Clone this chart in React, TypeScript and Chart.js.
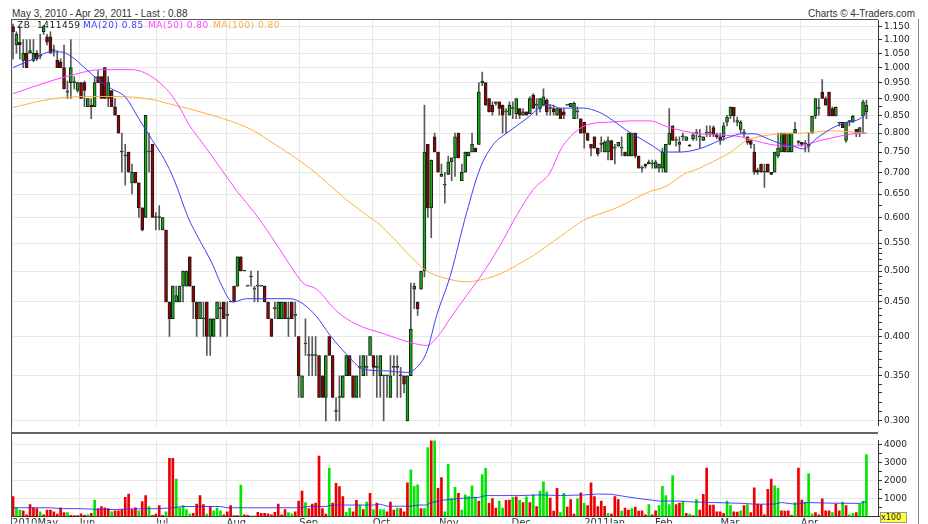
import { useEffect, useRef } from "react";
import { Chart, registerables } from "chart.js";

Chart.register(...registerables);

// Each candle: [open, high, low, close]
const candles: [number, number, number, number][] = [
  // May 2010
  [1.15, 1.16, 1.03, 1.13], [1.08, 1.13, 1.05, 1.12], [1.09, 1.15, 1.03, 1.08], [1.025, 1.10, 1.00, 1.05], [1.05, 1.10, 1.00, 1.00],
  [1.05, 1.10, 1.05, 1.06], [1.025, 1.10, 1.02, 1.05], [1.05, 1.06, 1.025, 1.03], [1.04, 1.12, 1.03, 1.04], [1.13, 1.155, 1.12, 1.15],
  [1.11, 1.12, 1.08, 1.09], [1.11, 1.13, 1.05, 1.05], [1.06, 1.08, 1.04, 1.06], [1.025, 1.06, 1.00, 1.00], [1.02, 1.03, 1.00, 1.00],
  [1.00, 1.08, 0.93, 0.93], [0.92, 0.955, 0.90, 0.92], [0.95, 1.10, 0.90, 1.00], [0.95, 0.97, 0.93, 0.95], [0.925, 0.95, 0.92, 0.95],
  // Jun
  [0.95, 0.95, 0.90, 0.90], [0.95, 0.955, 0.875, 0.925], [0.875, 0.90, 0.875, 0.90], [0.88, 0.90, 0.84, 0.875], [0.875, 0.97, 0.875, 0.95],
  [0.97, 0.99, 0.95, 0.95], [0.97, 0.97, 0.90, 0.90], [1.00, 1.00, 0.90, 0.90], [0.90, 0.97, 0.875, 0.95], [0.925, 0.925, 0.875, 0.875],
  [0.875, 0.90, 0.85, 0.85], [0.85, 0.85, 0.80, 0.80], [0.75, 0.80, 0.70, 0.75], [0.74, 0.77, 0.67, 0.74], [0.75, 0.75, 0.70, 0.70],
  [0.675, 0.72, 0.65, 0.70], [0.70, 0.70, 0.675, 0.675], [0.675, 0.675, 0.60, 0.62], [0.62, 0.62, 0.573, 0.575], [0.60, 0.85, 0.60, 0.85],
  [0.75, 0.80, 0.70, 0.75], [0.77, 0.77, 0.60, 0.60], [0.60, 0.61, 0.575, 0.60],
  // Jul
  [0.60, 0.625, 0.575, 0.60], [0.575, 0.60, 0.575, 0.60], [0.575, 0.575, 0.45, 0.45], [0.45, 0.45, 0.40, 0.425], [0.425, 0.475, 0.425, 0.475],
  [0.45, 0.475, 0.45, 0.46], [0.45, 0.475, 0.45, 0.475], [0.475, 0.50, 0.45, 0.50], [0.475, 0.50, 0.475, 0.50], [0.525, 0.525, 0.475, 0.475],
  [0.475, 0.475, 0.425, 0.45], [0.45, 0.45, 0.40, 0.425], [0.425, 0.45, 0.425, 0.45], [0.425, 0.45, 0.40, 0.425], [0.45, 0.45, 0.375, 0.40],
  [0.40, 0.425, 0.375, 0.425], [0.40, 0.425, 0.40, 0.425], [0.425, 0.45, 0.425, 0.45], [0.44, 0.45, 0.40, 0.44], [0.45, 0.45, 0.425, 0.425],
  // Aug
  [0.43, 0.45, 0.40, 0.43], [0.45, 0.45, 0.45, 0.45], [0.475, 0.475, 0.45, 0.45], [0.475, 0.525, 0.475, 0.525], [0.525, 0.525, 0.50, 0.50],
  [0.50, 0.50, 0.50, 0.50], [0.475, 0.475, 0.475, 0.475], [0.49, 0.50, 0.475, 0.49], [0.47, 0.475, 0.45, 0.47], [0.475, 0.50, 0.45, 0.475],
  [0.475, 0.475, 0.475, 0.475], [0.475, 0.475, 0.45, 0.45], [0.45, 0.45, 0.425, 0.425], [0.425, 0.425, 0.40, 0.40], [0.44, 0.45, 0.425, 0.44],
  [0.425, 0.45, 0.425, 0.45], [0.425, 0.45, 0.425, 0.45], [0.45, 0.45, 0.425, 0.425], [0.425, 0.45, 0.40, 0.425], [0.45, 0.45, 0.425, 0.425],
  [0.43, 0.45, 0.40, 0.43],
  // Sep
  [0.40, 0.40, 0.325, 0.35], [0.325, 0.35, 0.325, 0.35], [0.39, 0.425, 0.375, 0.39], [0.375, 0.40, 0.35, 0.375], [0.375, 0.40, 0.35, 0.375],
  [0.375, 0.40, 0.35, 0.375], [0.375, 0.375, 0.325, 0.325], [0.35, 0.35, 0.325, 0.325], [0.325, 0.375, 0.30, 0.375], [0.40, 0.40, 0.375, 0.375],
  [0.375, 0.375, 0.325, 0.325], [0.31, 0.325, 0.30, 0.31], [0.325, 0.35, 0.30, 0.325], [0.325, 0.35, 0.325, 0.35], [0.35, 0.375, 0.35, 0.375],
  [0.375, 0.375, 0.35, 0.35], [0.35, 0.35, 0.325, 0.325], [0.325, 0.35, 0.325, 0.35], [0.36, 0.375, 0.325, 0.36], [0.35, 0.375, 0.35, 0.375],
  [0.36, 0.375, 0.35, 0.36], [0.375, 0.40, 0.375, 0.40],
  // Oct
  [0.375, 0.375, 0.35, 0.36], [0.36, 0.375, 0.325, 0.36], [0.35, 0.375, 0.325, 0.375], [0.35, 0.35, 0.30, 0.35], [0.35, 0.35, 0.325, 0.35],
  [0.325, 0.375, 0.325, 0.35], [0.36, 0.375, 0.35, 0.36], [0.36, 0.375, 0.325, 0.36], [0.35, 0.36, 0.325, 0.35], [0.35, 0.35, 0.33, 0.34],
  [0.30, 0.35, 0.30, 0.35], [0.35, 0.48, 0.35, 0.41], [0.47, 0.48, 0.44, 0.475], [0.45, 0.45, 0.43, 0.44], [0.47, 0.50, 0.47, 0.50],
  [0.50, 0.88, 0.49, 0.75], [0.77, 0.77, 0.60, 0.62], [0.62, 0.73, 0.56, 0.73], [0.79, 0.80, 0.75, 0.75], [0.75, 0.75, 0.70, 0.70],
  // Nov
  [0.69, 0.72, 0.69, 0.695], [0.67, 0.70, 0.63, 0.67], [0.695, 0.74, 0.695, 0.725], [0.725, 0.735, 0.68, 0.735], [0.735, 0.80, 0.69, 0.79],
  [0.80, 0.80, 0.735, 0.735], [0.68, 0.72, 0.68, 0.70], [0.70, 0.75, 0.70, 0.75], [0.74, 0.75, 0.74, 0.75], [0.75, 0.80, 0.75, 0.77],
  [0.76, 0.76, 0.75, 0.75], [0.77, 0.95, 0.77, 0.92], [0.95, 0.985, 0.94, 0.955], [0.95, 0.95, 0.88, 0.88], [0.90, 0.90, 0.86, 0.86],
  [0.88, 0.89, 0.85, 0.86], [0.885, 0.89, 0.88, 0.89], [0.89, 0.89, 0.85, 0.87], [0.88, 0.88, 0.80, 0.85], [0.86, 0.87, 0.80, 0.86],
  [0.85, 0.89, 0.85, 0.88],
  // Dec
  [0.87, 0.89, 0.84, 0.87], [0.855, 0.90, 0.84, 0.90], [0.87, 0.87, 0.84, 0.85], [0.85, 0.87, 0.85, 0.86], [0.86, 0.86, 0.85, 0.85],
  [0.855, 0.905, 0.855, 0.90], [0.91, 0.915, 0.87, 0.87], [0.88, 0.90, 0.85, 0.88], [0.87, 0.90, 0.86, 0.90], [0.88, 0.93, 0.88, 0.905],
  [0.895, 0.90, 0.85, 0.86], [0.87, 0.88, 0.85, 0.87], [0.87, 0.88, 0.85, 0.86], [0.85, 0.87, 0.85, 0.87], [0.87, 0.87, 0.84, 0.84],
  [0.86, 0.87, 0.84, 0.85], [0.88, 0.88, 0.88, 0.88], [0.875, 0.885, 0.875, 0.885], [0.84, 0.89, 0.84, 0.885], [0.86, 0.875, 0.84, 0.86],
  [0.84, 0.84, 0.80, 0.80], [0.83, 0.83, 0.76, 0.80],
  // Jan 2011
  [0.80, 0.80, 0.78, 0.78], [0.77, 0.77, 0.74, 0.76], [0.79, 0.79, 0.76, 0.76], [0.76, 0.76, 0.74, 0.745], [0.77, 0.79, 0.75, 0.77],
  [0.75, 0.78, 0.75, 0.775], [0.75, 0.79, 0.73, 0.78], [0.78, 0.78, 0.73, 0.73], [0.76, 0.77, 0.72, 0.76], [0.765, 0.775, 0.765, 0.775],
  [0.76, 0.79, 0.74, 0.76], [0.75, 0.75, 0.74, 0.74], [0.74, 0.80, 0.74, 0.80], [0.74, 0.80, 0.74, 0.80], [0.80, 0.80, 0.735, 0.74],
  [0.74, 0.74, 0.71, 0.71], [0.71, 0.715, 0.70, 0.71], [0.72, 0.72, 0.71, 0.715], [0.72, 0.73, 0.72, 0.725], [0.72, 0.73, 0.71, 0.72],
  // Feb
  [0.71, 0.73, 0.71, 0.725], [0.71, 0.72, 0.70, 0.72], [0.71, 0.76, 0.70, 0.75], [0.70, 0.77, 0.70, 0.77], [0.77, 0.87, 0.77, 0.80],
  [0.82, 0.82, 0.78, 0.78], [0.78, 0.79, 0.765, 0.78], [0.77, 0.79, 0.75, 0.775], [0.79, 0.80, 0.78, 0.79], [0.78, 0.79, 0.78, 0.79],
  [0.765, 0.77, 0.765, 0.765], [0.785, 0.80, 0.78, 0.795], [0.80, 0.81, 0.78, 0.80], [0.79, 0.81, 0.76, 0.79], [0.78, 0.79, 0.78, 0.79],
  [0.80, 0.82, 0.79, 0.80], [0.80, 0.82, 0.79, 0.80], [0.815, 0.82, 0.79, 0.795], [0.795, 0.80, 0.785, 0.79], [0.79, 0.80, 0.77, 0.78],
  // Mar
  [0.79, 0.83, 0.78, 0.82], [0.83, 0.85, 0.82, 0.845], [0.848, 0.875, 0.84, 0.873], [0.873, 0.873, 0.83, 0.848], [0.83, 0.845, 0.82, 0.835],
  [0.81, 0.835, 0.80, 0.83], [0.80, 0.81, 0.79, 0.80], [0.79, 0.79, 0.77, 0.775], [0.78, 0.78, 0.76, 0.77], [0.75, 0.77, 0.695, 0.70],
  [0.705, 0.71, 0.695, 0.70], [0.72, 0.72, 0.70, 0.70], [0.70, 0.72, 0.665, 0.70], [0.72, 0.72, 0.70, 0.70], [0.70, 0.70, 0.695, 0.695],
  [0.70, 0.75, 0.70, 0.75], [0.74, 0.80, 0.735, 0.76], [0.75, 0.80, 0.75, 0.80], [0.80, 0.80, 0.75, 0.75], [0.75, 0.80, 0.75, 0.80],
  [0.75, 0.80, 0.75, 0.80], [0.80, 0.83, 0.80, 0.81], [0.775, 0.78, 0.77, 0.775],
  // Apr
  [0.775, 0.775, 0.765, 0.77], [0.77, 0.78, 0.75, 0.77], [0.77, 0.80, 0.75, 0.765], [0.80, 0.848, 0.80, 0.848], [0.848, 0.90, 0.84, 0.90],
  [0.87, 0.90, 0.85, 0.87], [0.92, 0.96, 0.90, 0.90], [0.90, 0.905, 0.88, 0.88], [0.92, 0.92, 0.848, 0.848], [0.87, 0.875, 0.848, 0.848],
  [0.848, 0.875, 0.848, 0.873], [0.828, 0.83, 0.82, 0.828], [0.83, 0.83, 0.815, 0.815], [0.78, 0.83, 0.775, 0.83], [0.83, 0.835, 0.82, 0.835],
  [0.83, 0.85, 0.83, 0.848], [0.81, 0.81, 0.79, 0.80], [0.80, 0.815, 0.79, 0.815], [0.848, 0.895, 0.80, 0.89], [0.86, 0.895, 0.84, 0.88],
];

// Volume in units of 100 shares
const volume = [
  1115, 490, 355, 320, 100, 660, 490, 440, 270, 100,
  355, 355, 270, 135, 490, 220, 220, 70, 50, 60,
  150, 70, 100, 185, 910, 440, 560, 490, 440, 270,
  320, 320, 390, 1065, 1250, 390, 490, 320, 830, 1165,
  560, 70, 135, 610, 70, 270, 3230, 3230, 2080, 490,
  610, 390, 135, 185, 690, 1165, 660, 135, 525, 320,
  490, 320, 100, 270, 610, 50, 50, 1740, 100, 70,
  20, 40, 235, 185, 185, 150, 100, 235, 690, 100,
  390, 220, 150, 270, 860, 1420, 780, 440, 690, 745,
  3350, 440, 135, 2690, 745, 1840, 1660, 1115, 235, 475,
  270, 895, 640, 390, 810, 1285, 390, 745, 390, 390,
  270, 810, 355, 475, 440, 270, 1875, 2585, 1675, 1760,
  440, 440, 3820, 4300, 4300, 1570, 2160, 270, 2890, 1000,
  1620, 1285,
  355, 1200, 1115, 1710, 1065, 860, 2330, 2670, 730, 1000,
  475, 860, 475, 895, 910, 1065, 1100, 895, 780, 1100,
  780, 1200, 560, 1420, 1930, 1370, 1030, 300, 1570, 220,
  1285, 525, 945, 135, 980, 1320, 730, 610, 1875, 1115,
  560, 860, 575, 185, 135, 1115, 945, 305, 475, 355,
  440, 525, 305, 320, 100, 660, 100, 320, 610, 1675,
  1165, 660, 2265, 660, 745, 830, 185, 135, 50, 945,
  355, 1235, 2690, 640, 640, 270, 270, 185, 860, 610,
  270, 250, 320, 610, 660, 220, 1590, 690, 660, 100,
  1505, 2080, 1710, 1570, 320, 300, 320, 70, 780, 2690,
  910, 810, 2385, 150, 220, 100, 980, 320, 320, 220,
  690, 320, 810, 610, 100, 185, 220, 690, 860, 3430,
];

// g = up day (green bar), r = down day (red bar), one letter per volume bar
const volumeSide = (
  "rggrrrrrgr rrrrrrgrrr rrgrgrrrrg rrrrrrrgrr grrrrgrrgg gggrrrrgrg ggrrrrrgrr rgrrrrrrrr rggrrrgrrr rrrgrrrrgg rrgrgrgrgg rrrgrrrggg rggrgrrggg gr " +
  "gggggrggrr rggrrgrgrg rgrgggrrrg grrrgrgrrr rrrgrrrgrr grrrrgrrgg gggrrgrgrg rrrrrrrrgg rrgrgrrrrr rrggrrrrgr rgggrrrrrg rrgrggrggg"
).replace(/ /g, "").split("");

// Moving averages: [day index, value]
const ma20: [number, number][] = [
  [0, 1.0], [6, 1.03], [11, 1.055], [14, 1.055], [17, 1.04], [21, 1.0], [25, 0.96], [29, 0.93], [33, 0.905], [37, 0.84],
  [41, 0.78], [44.6, 0.73], [47.5, 0.68], [51.5, 0.6], [54, 0.566], [58.8, 0.51], [61, 0.48], [64.7, 0.45], [68.7, 0.455], [74.6, 0.455],
  [81.5, 0.455], [85.3, 0.447], [89.3, 0.428], [93.2, 0.402], [98, 0.377], [103, 0.358], [109, 0.356], [116, 0.354], [118.7, 0.36], [121.7, 0.38],
  [124.6, 0.43], [128.5, 0.49], [133.4, 0.61], [137.4, 0.71], [141.3, 0.77], [145.2, 0.8], [151, 0.84], [155, 0.873], [157.4, 0.882], [161, 0.871],
  [167.7, 0.871], [172.6, 0.858], [176.6, 0.834], [180.5, 0.807], [184.4, 0.786], [188.3, 0.765], [191.3, 0.75], [196.2, 0.75], [200, 0.754], [204, 0.765],
  [208, 0.781], [211, 0.79], [214, 0.798], [218, 0.798], [221.7, 0.786], [225.6, 0.772], [229.5, 0.765], [232.4, 0.758], [236.4, 0.786], [241.2, 0.815],
  [245.2, 0.83], [249.1, 0.84], [251, 0.858],
];

const ma50: [number, number][] = [
  [0, 0.915], [11, 0.955], [17.7, 0.976], [25.6, 0.993], [35, 0.993], [40, 0.975], [44.6, 0.935], [47, 0.905], [50, 0.855], [51.5, 0.827],
  [56, 0.77], [61, 0.71], [66, 0.655], [71, 0.61], [75.6, 0.566], [81.5, 0.51], [85.3, 0.48], [89.3, 0.47], [95.2, 0.436], [101, 0.417],
  [108.9, 0.404], [116.8, 0.392], [121.7, 0.388], [125.6, 0.404], [128.5, 0.425], [133.4, 0.46], [137.4, 0.49], [143.2, 0.545], [148.1, 0.604], [153, 0.66],
  [158, 0.7], [161, 0.755], [165, 0.8], [170, 0.826], [175, 0.83], [182, 0.834], [187.4, 0.834], [192.3, 0.818], [197, 0.806], [202, 0.798],
  [208, 0.795], [214, 0.79], [218, 0.78], [222.6, 0.77], [227.5, 0.765], [232.4, 0.768], [237.4, 0.78], [242.3, 0.79], [247, 0.798], [251, 0.8],
];

const ma100: [number, number][] = [
  [0, 0.873], [11, 0.898], [21, 0.906], [30.6, 0.906], [40.3, 0.898], [46.2, 0.883], [51.5, 0.87], [55, 0.86], [62, 0.84], [70, 0.81],
  [77, 0.77], [84, 0.73], [91, 0.685], [97.6, 0.64], [104, 0.605], [108, 0.585], [111, 0.565], [114, 0.545], [117.5, 0.522], [121.7, 0.5],
  [128.5, 0.486], [133.4, 0.482], [138.3, 0.486], [143.2, 0.495], [148.1, 0.51], [153, 0.527], [158, 0.549], [163, 0.572], [167.7, 0.594], [177.5, 0.62],
  [187.4, 0.656], [192, 0.667], [197.2, 0.695], [202, 0.71], [208, 0.735], [211, 0.749], [215.8, 0.78], [222.6, 0.795], [232.4, 0.8], [240.3, 0.806],
  [251, 0.8],
];

const volumeMA: [number, number][] = [
  [0, 490], [11, 490], [14, 445], [20, 440], [25, 400], [30, 390], [35, 430], [43, 440], [47, 490], [50, 560],
  [61, 560], [63, 490], [84, 490], [87, 560], [92, 560], [94, 640], [106, 640], [108, 690], [110, 575], [117, 575],
  [119, 640], [121.7, 640], [123, 780], [126.6, 910], [131, 1000], [137, 1065], [139, 1165], [149, 1165], [155, 1200], [161, 1165],
  [168, 1200], [172, 1250], [176, 1235], [180, 1115], [184, 1000], [190, 860], [196, 860], [200, 810], [206, 780], [215, 730],
  [218, 690], [224, 690], [226, 780], [230, 690], [234, 780], [240, 745], [249, 730], [251, 830],
];

const monthTicks = [-0.3, 19.6, 42.1, 62.8, 84.2, 105.8, 125.3, 146.6, 168.0, 188.8, 208.1, 231.7];
const monthLabels = ["2010May", "Jun", "Jul", "Aug", "Sep", "Oct", "Nov", "Dec", "2011Jan", "Feb", "Mar", "Apr"];

const priceMajorTicks = [0.3, 0.35, 0.4, 0.45, 0.5, 0.55, 0.6, 0.65, 0.7, 0.75, 0.8, 0.85, 0.9, 0.95, 1.0, 1.05, 1.1, 1.15];
const priceMinorTicks = [
  0.31, 0.32, 0.33, 0.34, 0.36, 0.37, 0.38, 0.39, 0.41, 0.42, 0.43, 0.44, 0.46, 0.47, 0.48, 0.49,
  0.51, 0.52, 0.53, 0.54, 0.575, 0.625, 0.675, 0.725, 0.775, 0.825, 0.875,
];
const volumeTicks = [0, 500, 1000, 1500, 2000, 2500, 3000, 3500, 4000];
const volumeLabelTicks = [1000, 2000, 3000, 4000];

const X_MIN = -0.6;
const X_MAX = 254.4;
const AXIS_FONT = "DejaVu Sans";

const isMajorPrice = (v: number) => priceMajorTicks.some((m) => Math.abs(m - v) < 1e-9);

export default function App() {
  const priceRef = useRef<HTMLCanvasElement>(null);
  const volRef = useRef<HTMLCanvasElement>(null);

  useEffect(() => {
    Chart.defaults.font.family = AXIS_FONT;
    const xAxis = (showLabels: boolean): any => ({
      type: "linear",
      offset: false,
      min: X_MIN,
      max: X_MAX,
      afterBuildTicks: (s: any) => {
        s.ticks = monthTicks.map((v) => ({ value: v }));
      },
      afterFit: (s: any) => {
        s.height = showLabels ? 7 : 0;
      },
      grid: { color: "#e6e6e6", drawTicks: false, lineWidth: 1, offset: false },
      border: { display: showLabels, color: "#333" },
      ticks: {
        display: showLabels,
        autoSkip: false,
        maxRotation: 0,
        align: "start",
        padding: 1,
        color: "#333",
        font: { family: AXIS_FONT, size: 10 },
        callback: (_v: any, i: number) => monthLabels[i],
      },
    });

    const allPriceTicks = [...priceMajorTicks, ...priceMinorTicks].sort((a, b) => a - b);

    const price = new Chart(priceRef.current as HTMLCanvasElement, {
      type: "bar",
      data: {
        datasets: [
          {
            type: "line",
            label: "MA(20)",
            data: ma20.map(([x, y]) => ({ x, y })),
            borderColor: "#3c3cff",
            borderWidth: 1,
            pointRadius: 0,
            cubicInterpolationMode: "monotone",
            order: 0,
          },
          {
            type: "line",
            label: "MA(50)",
            data: ma50.map(([x, y]) => ({ x, y })),
            borderColor: "#ff44ff",
            borderWidth: 1,
            pointRadius: 0,
            cubicInterpolationMode: "monotone",
            order: 0,
          },
          {
            type: "line",
            label: "MA(100)",
            data: ma100.map(([x, y]) => ({ x, y })),
            borderColor: "#ffae40",
            borderWidth: 1,
            pointRadius: 0,
            cubicInterpolationMode: "monotone",
            order: 0,
          },
          {
            type: "bar",
            label: "body",
            data: candles.map((c, i) => ({ x: i, y: [c[0], c[3]] })),
            backgroundColor: candles.map((c) => (c[3] >= c[0] ? "#12b012" : "#9a0000")),
            borderColor: "#1a1a1a",
            borderWidth: 1,
            borderSkipped: false,
            barThickness: 3,
            minBarLength: 1,
            grouped: false,
            order: 1,
          },
          {
            type: "bar",
            label: "wick",
            data: candles.map((c, i) => ({ x: i, y: [c[2], c[1]] })),
            backgroundColor: "#5a5a5a",
            borderWidth: 0,
            barThickness: 1,
            grouped: false,
            order: 2,
          },
        ] as any,
      },
      options: {
        animation: false,
        responsive: false,
        layout: { padding: { left: 11, top: 20, right: 0, bottom: 0 } },
        plugins: { legend: { display: false }, tooltip: { enabled: false } },
        scales: {
          x: xAxis(false),
          y: {
            type: "logarithmic",
            position: "right",
            min: 0.2953,
            max: 1.176,
            afterBuildTicks: (s: any) => {
              s.ticks = allPriceTicks.map((v) => ({ value: v }));
            },
            afterFit: (s: any) => {
              s.width = 50;
            },
            grid: {
              color: (ctx: any) => (ctx.tick && isMajorPrice(ctx.tick.value) ? "#e8e8e8" : "rgba(0,0,0,0)"),
              tickColor: "#333",
              tickLength: 4,
            },
            border: { display: true, color: "#333" },
            ticks: {
              autoSkip: false,
              padding: 2,
              color: "#222",
              font: { family: AXIS_FONT, size: 9 },
              callback: (v: any) => (isMajorPrice(Number(v)) ? Number(v).toFixed(3) : ""),
            },
          },
        },
      } as any,
    });

    const vol = new Chart(volRef.current as HTMLCanvasElement, {
      type: "bar",
      data: {
        datasets: [
          {
            type: "line",
            label: "Volume MA",
            data: volumeMA.map(([x, y]) => ({ x, y })),
            borderColor: "rgba(40,40,255,0.85)",
            borderWidth: 1,
            pointRadius: 0,
            tension: 0,
            order: 0,
          },
          {
            type: "bar",
            label: "Volume",
            data: volume.map((v, i) => ({ x: i, y: v })),
            backgroundColor: volume.map((_, i) => (volumeSide[i] === "g" ? "#00e600" : "#ee0000")),
            borderWidth: 0,
            barThickness: 2,
            order: 1,
          },
        ] as any,
      },
      options: {
        animation: false,
        responsive: false,
        layout: { padding: { left: 11, top: 1, right: 0, bottom: 0 } },
        plugins: { legend: { display: false }, tooltip: { enabled: false } },
        scales: {
          x: xAxis(true),
          y: {
            type: "linear",
            position: "right",
            min: 0,
            max: 4220,
            afterBuildTicks: (s: any) => {
              s.ticks = volumeTicks.map((v) => ({ value: v }));
            },
            afterFit: (s: any) => {
              s.width = 50;
            },
            grid: {
              color: (ctx: any) =>
                ctx.tick && volumeLabelTicks.includes(ctx.tick.value) ? "#e8e8e8" : "rgba(0,0,0,0)",
              tickColor: "#333",
              tickLength: 4,
            },
            border: { display: true, color: "#333" },
            ticks: {
              autoSkip: false,
              padding: 2,
              color: "#222",
              font: { family: AXIS_FONT, size: 9 },
              callback: (v: any) => (volumeLabelTicks.includes(Number(v)) ? String(v) : ""),
            },
          },
        },
      } as any,
    });

    return () => {
      price.destroy();
      vol.destroy();
    };
  }, []);

  const legendStyle: any = {
    position: "absolute",
    top: 20,
    font: `9px "${AXIS_FONT}"`,
    lineHeight: "11px",
    letterSpacing: "0.5px",
    whiteSpace: "nowrap",
  };

  return (
    <div
      style={{
        position: "absolute",
        left: 0,
        top: 0,
        width: 928,
        height: 524,
        background: "#ffffff",
        overflow: "hidden",
      }}
    >
      <div
        style={{
          position: "absolute",
          left: 12,
          top: 8,
          font: '10px "Liberation Sans"',
          lineHeight: "12px",
          color: "#333",
          whiteSpace: "nowrap",
        }}
      >
        May 3, 2010 - Apr 29, 2011 - Last : 0.88
      </div>
      <div
        style={{
          position: "absolute",
          right: 13,
          top: 8,
          font: '10px "Liberation Sans"',
          lineHeight: "12px",
          color: "#333",
          whiteSpace: "nowrap",
        }}
      >
        Charts © 4-Traders.com
      </div>
      <canvas ref={priceRef} width={928} height={433} style={{ position: "absolute", left: 0, top: 0 }} />
      <canvas ref={volRef} width={928} height={91} style={{ position: "absolute", left: 0, top: 433 }} />
      {/* frame lines */}
      <div style={{ position: "absolute", left: 11, top: 19, width: 867, height: 1, background: "#555" }} />
      <div style={{ position: "absolute", left: 11, top: 19, width: 1, height: 505, background: "#555" }} />
      <div style={{ position: "absolute", left: 11, top: 432, width: 867, height: 2, background: "#666" }} />
      <div style={{ position: "absolute", left: 918, top: 19, width: 1, height: 505, background: "#888" }} />
      {/* legend */}
      <span style={{ ...legendStyle, left: 17, color: "#222" }}>ZB</span>
      <span style={{ ...legendStyle, left: 37, color: "#222" }}>1411459</span>
      <span style={{ ...legendStyle, left: 83, color: "#3c3cff" }}>MA(20) 0.85</span>
      <span style={{ ...legendStyle, left: 148, color: "#ff44ff" }}>MA(50) 0.80</span>
      <span style={{ ...legendStyle, left: 213, color: "#ffae40" }}>MA(100) 0.80</span>
      <div
        style={{
          position: "absolute",
          left: 880,
          top: 512,
          width: 25,
          height: 9,
          background: "#ffff40",
          border: "1px solid #999",
          font: `8px "${AXIS_FONT}"`,
          lineHeight: "9px",
          color: "#222",
          overflow: "hidden",
          whiteSpace: "nowrap",
        }}
      >
        x100
      </div>
    </div>
  );
}
